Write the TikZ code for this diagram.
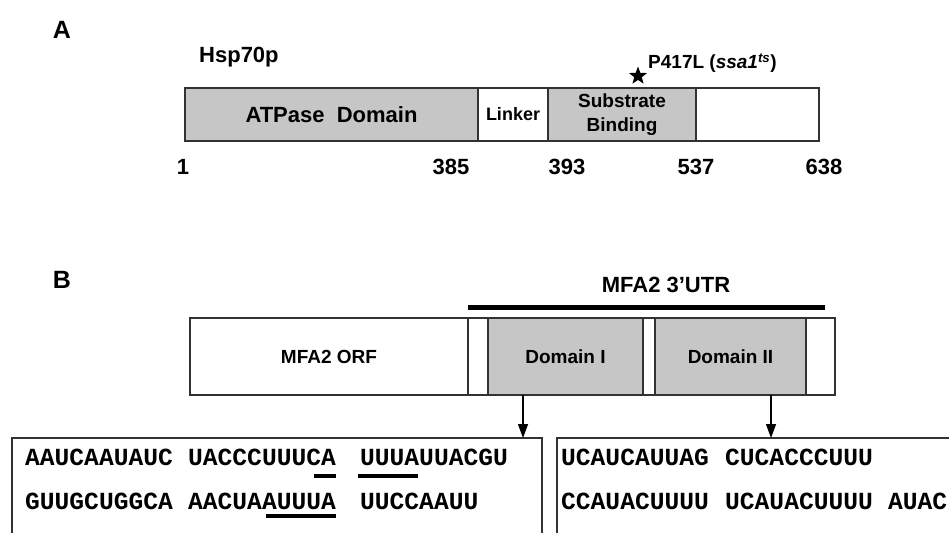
\documentclass[tikz,border=0pt]{standalone}
\usepackage{fontspec}
\setmainfont{Liberation Sans}
\newfontfamily\seqfont{Liberation Mono}
\usetikzlibrary{positioning,calc,arrows.meta,shapes.geometric}
\definecolor{boxgray}{RGB}{198,198,198}
\definecolor{edgegray}{RGB}{50,50,50}

\begin{document}
\begin{tikzpicture}[x=1pt, y=-1pt,
    seg/.style={draw=edgegray, line width=1.3pt, inner sep=0pt, outer sep=0pt,
        align=center, font=\bfseries\fontsize{19}{24}\selectfont},
    barA/.style={seg, minimum height=53pt},
    barB/.style={seg, minimum height=77pt},
    big/.style={font=\bfseries\fontsize{22}{26}\selectfont, inner sep=0pt},
    seqbox/.style={draw=edgegray, line width=1.3pt, inner sep=0pt, outer sep=0pt},
    seq/.style={font=\seqfont\bfseries\fontsize{24.6}{28}\selectfont, inner sep=0pt},
    motif/.style={line width=4.5pt},
    arr/.style={line width=1.3pt, -{Triangle[length=14pt,width=10pt]}}]
    \useasboundingbox (0,0) rectangle (949,532);
    \clip (0,0) rectangle (949,532);

    % panel A: Hsp70p domains
    \node[big, font=\bfseries\fontsize{25}{28}\selectfont] (pA) at (62,30) {A};
    \node[big, anchor=west] (hsp) at (199,57) {Hsp70p};

    \node[barA, fill=boxgray, minimum width=293pt, anchor=west,
        font=\bfseries\fontsize{22}{26}\selectfont] (atp) at (185,114.5) {ATPase\ \ Domain};
    \node[barA, minimum width=70pt, right=0pt of atp,
        font=\bfseries\fontsize{18}{22}\selectfont] (lnk) {Linker};
    \node[barA, fill=boxgray, minimum width=148pt, right=0pt of lnk] (sbd) {Substrate\\Binding};
    \node[barA, minimum width=123pt, right=0pt of sbd] (ctd) {};

    \node[star, star points=5, star point ratio=2.4, fill=black, inner sep=0pt,
        minimum size=19pt] (mut) at (638,76) {};
    \node[anchor=west, inner sep=0pt, font=\bfseries\fontsize{19}{23}\selectfont] (mutlbl) at (648,63)
        {P417L (\textit{ssa1}\textsuperscript{\textit{ts}})};

    % residue numbers under the bar
    \foreach \x / \n in {183/1, 451/385, 567/393, 696/537, 824/638}
    {
        \node[big] (n\n) at (\x,167) {\n};
    }

    % panel B: MFA2 mRNA
    \node[big, font=\bfseries\fontsize{25}{28}\selectfont] (pB) at (62,280) {B};

    \node[barB, minimum width=278pt, anchor=west] (orf) at (190,356.5) {MFA2 ORF};
    \node[barB, minimum width=20pt, right=0pt of orf] (sp1) {};
    \node[barB, fill=boxgray, minimum width=155pt, right=0pt of sp1] (dom1) {Domain I};
    \node[barB, minimum width=12pt, right=0pt of dom1] (sp2) {};
    \node[barB, fill=boxgray, minimum width=151pt, right=0pt of sp2] (dom2) {Domain II};
    \node[barB, minimum width=29pt, right=0pt of dom2] (sp3) {};

    \node[big] (utr) at (666,285) {MFA2 3'UTR};
    \draw[line width=5pt] ([yshift=11pt]orf.north east) -- ([xshift=19pt,yshift=11pt]dom2.north east);

    % sequence boxes (run past the lower edge)
    \node[seqbox, minimum width=530pt, minimum height=110pt, anchor=north west] (seqI) at (12,438) {};
    \node[seqbox, minimum width=396pt, minimum height=110pt, anchor=north west] (seqII) at (557,438) {};

    \draw[arr] ([xshift=-42.5pt]dom1.south) -- ([xshift=-42.5pt]dom1.south |- seqI.north);
    \draw[arr] ([xshift=40.5pt]dom2.south) -- ([xshift=40.5pt]dom2.south |- seqII.north);

    \foreach \w / \x / \y / \t in {11/25/465/AAUCAAUAUC, 12/188/465/UACCCUUUCA, 13/360/465/UUUAUUACGU,
        21/25/509/GUUGCUGGCA, 22/188/509/AACUAAUUUA, 23/360/509/UUCCAAUU,
        31/561/465/UCAUCAUUAG, 32/725/465/CUCACCCUUU,
        41/561/509/CCAUACUUUU, 42/725/509/UCAUACUUUU, 43/888/509/AUAC}
    {
        \node[seq, anchor=base west] (w\w) at (\x,\y) {\t};
    }

    % AUUUA motifs
    \draw[motif] ([yshift=-11pt]w12.base east) -- +(-22,0);
    \draw[motif] ([xshift=-2pt,yshift=-11pt]w13.base west) -- +(60,0);
    \draw[motif] ([yshift=-7pt]w22.base east) -- +(-70,0);

\end{tikzpicture}
\end{document}
